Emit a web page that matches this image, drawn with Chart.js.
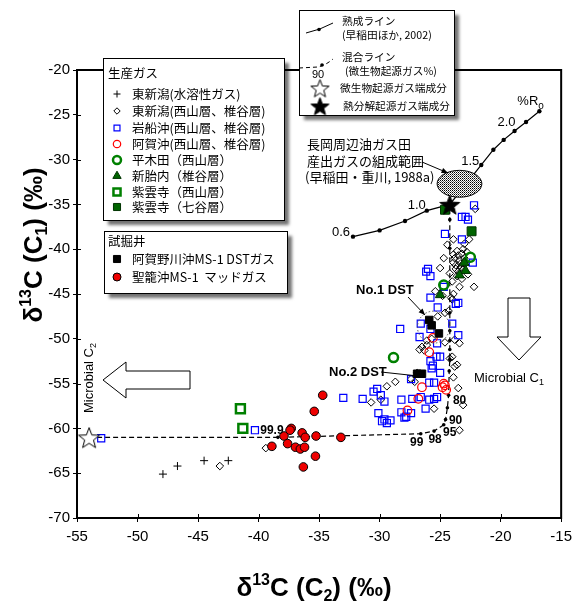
<!DOCTYPE html>
<html>
<head>
<meta charset="utf-8">
<script src="https://cdn.jsdelivr.net/npm/chart.js@4.4.1/dist/chart.umd.min.js"></script>
<style>
  html, body { margin: 0; padding: 0; background: #fff; }
</style>
</head>
<body>
<canvas id="chart" width="578" height="608"></canvas>
<script>
const AR = '"Liberation Sans", Arial, "Noto Sans CJK JP", sans-serif';
const JP = '"Noto Sans CJK JP", "Liberation Sans", sans-serif';

// axes
const xTicks = [-55, -50, -45, -40, -35, -30, -25, -20, -15];
const yTicks = [-70, -65, -60, -55, -50, -45, -40, -35, -30, -25, -20];

// 生産ガス
const higashiWater = [[-47.9, -65.1], [-46.7, -64.2], [-44.5, -63.6], [-42.5, -63.6]];
const higashiNS = [
  [-43.2, -64.2], [-39.4, -62.2],
  [-23.4, -60.2], [-23.1, -57.4], [-23.5, -55.5], [-23.9, -54.3], [-23.8, -53.1], [-25.5, -57.8],
  [-29.4, -55.3], [-28.7, -54.8], [-30.7, -57.1], [-29.9, -56.8],
  [-26.9, -53.8], [-27.1, -54.8], [-27.4, -54.5],
  [-26.5, -50.9], [-26.1, -50.7], [-25.7, -50.0], [-24.6, -50.4], [-23.8, -50.1], [-23.4, -50.5],
  [-24.0, -52.0], [-23.6, -52.9], [-24.2, -52.2],
  [-25.4, -44.7], [-22.2, -44.2], [-23.9, -45.0], [-24.0, -45.6], [-24.6, -47.1], [-24.3, -46.9],
  [-26.7, -51.2], [-26.3, -51.3], [-26.1, -50.2], [-25.2, -47.5], [-24.8, -45.2], [-24.1, -45.4],
  [-22.1, -35.5], [-23.9, -38.9], [-22.6, -38.9], [-24.4, -39.5], [-23.0, -39.4], [-24.7, -41.0],
  [-25.0, -42.1], [-23.9, -41.5],
  [-23.6, -40.2], [-23.2, -40.5], [-23.8, -41.0], [-23.4, -41.2], [-23.0, -41.0], [-23.7, -41.8],
  [-23.3, -42.0], [-22.9, -41.6], [-23.5, -42.5], [-23.1, -40.0], [-23.9, -40.6], [-22.8, -40.3],
  [-23.6, -43.0], [-23.2, -43.3], [-24.2, -42.7], [-24.0, -43.6], [-23.4, -44.2], [-22.7, -42.8],
  [-23.5, -40.7], [-23.3, -41.6], [-23.7, -42.2], [-23.1, -42.3]
];
const iwafune = [
  [-53.0, -61.1], [-40.3, -60.2], [-33.0, -56.6], [-31.4, -56.7],
  [-30.5, -55.9], [-30.2, -55.6], [-29.9, -56.3], [-29.6, -57.0],
  [-30.1, -58.3], [-29.8, -59.2], [-29.4, -59.4], [-29.1, -59.1], [-29.6, -59.0],
  [-28.2, -56.8], [-28.2, -58.2], [-27.95, -58.8], [-27.8, -58.7], [-27.4, -58.3], [-27.3, -56.7],
  [-27.4, -54.5], [-26.6, -56.5], [-26.2, -57.8], [-25.9, -56.8], [-25.9, -54.9], [-25.5, -54.9],
  [-25.5, -56.7], [-25.25, -56.5], [-25.0, -53.8], [-25.7, -53.3], [-25.6, -53.0],
  [-28.3, -48.9], [-26.7, -49.8], [-25.8, -48.9], [-24.0, -48.3], [-23.5, -49.6], [-25.0, -52.0],
  [-25.3, -52.0], [-25.25, -50.5], [-25.8, -52.5],
  [-22.2, -35.1], [-23.2, -36.4], [-22.9, -36.4], [-22.7, -36.7], [-24.6, -38.3], [-23.2, -38.9],
  [-22.3, -41.5], [-26.15, -42.5], [-26.0, -42.2], [-25.8, -43.0], [-24.7, -44.2], [-25.8, -45.4],
  [-23.7, -46.1], [-23.5, -46.0], [-25.2, -46.5], [-26.6, -48.3]
];
const agaoki = [[-26.5, -55.4], [-26.8, -56.7], [-27.7, -58.0], [-24.8, -55.4], [-24.6, -55.2],
  [-24.5, -55.7], [-24.7, -55.0], [-25.9, -51.5], [-25.6, -49.9]];
const hiragida = [[-22.5, -40.9], [-24.7, -44.0], [-28.85, -52.1]];
const shintainai = [[-23.0, -41.5], [-22.9, -42.4], [-23.4, -42.9], [-25.0, -45.1]];
const shiunjiNishiyama = [[-41.5, -57.8], [-41.3, -60.0]];
const shiunjiNanatani = [[-24.6, -35.6], [-22.4, -38.0]];

// 試掘井
const dstGas = [[-25.9, -47.9], [-25.7, -48.5], [-25.1, -49.4], [-26.9, -53.9], [-26.5, -53.9]];
const mudGas = [[-34.7, -56.3], [-35.4, -58.1], [-37.3, -60.0], [-37.4, -60.2], [-37.9, -60.85],
  [-36.4, -60.5], [-36.15, -61.0], [-35.25, -60.85], [-33.2, -61.0], [-38.9, -62.0], [-37.6, -61.7],
  [-36.95, -62.1], [-36.55, -62.3], [-36.2, -62.1], [-35.3, -63.1], [-36.3, -64.3]];

// lines and end-members
const maturity = [[-32.2, -38.6], [-30.0, -37.9], [-27.9, -36.85], [-26.1, -35.7], [-24.2, -35.0],
  [-21.6, -30.6], [-20.6, -28.9], [-19.75, -27.8], [-18.85, -26.8], [-17.9, -25.8], [-16.8, -24.6]];
const maturityLabels = [['0.6', 0, -12, -4], ['1.0', 3, -10, -5], ['1.5', 5, -11, -4], ['2.0', 8, -8, -9]];
const mixing = [[-54.0, -61.0], [-38.4, -61.0], [-26.6, -60.6], [-25.5, -60.3], [-24.7, -59.6],
  [-24.55, -59.0], [-24.4, -57.7], [-24.3, -56.3], [-24.25, -53.6], [-24.2, -52.3], [-24.2, -51.2],
  [-24.2, -50.2], [-24.2, -49.1], [-24.2, -47.1], [-24.2, -39.9], [-24.2, -36.7], [-24.2, -35.0]];
const mixingLabels = [['99.9', 1, -6, -7], ['99', 2, -4, 9], ['98', 3, 1, 9], ['95', 4, 6, 8], ['90', 5, 10, 1], ['80', 7, 11, 5]];
const microbialEnd = [[-54.0, -61.0]];
const thermoEnd = [[-24.2, -35.0]];
const oilfieldCenter = [-23.4, -32.7];
const oilfieldRadius = [1.85, 1.5];
const dst1Ring = [-25.55, -48.7];

const xy = a => a.map(p => ({ x: p[0], y: p[1] }));

function starImg(size, fill) {
  const c = document.createElement('canvas');
  c.width = c.height = size + 2;
  const g = c.getContext('2d');
  const cx = (size + 2) / 2, cy = cx + size * 0.06, R = size / 2, r = R * 0.42;
  g.beginPath();
  for (let i = 0; i < 10; i++) {
    const a = -Math.PI / 2 + i * Math.PI / 5, rr = i % 2 ? r : R;
    g.lineTo(cx + rr * Math.cos(a), cy + rr * Math.sin(a));
  }
  g.closePath();
  g.fillStyle = fill; g.fill();
  g.strokeStyle = '#000'; g.lineWidth = 1; g.stroke();
  return c;
}

const styles = {
  water: { pointStyle: 'cross', radius: 4, borderColor: '#000', backgroundColor: '#000', borderWidth: 1 },
  diamond: { pointStyle: 'rectRot', radius: 3.8, borderColor: '#000', backgroundColor: 'rgba(255,255,255,0)', borderWidth: 1 },
  blue: { pointStyle: 'rect', radius: 5, borderColor: '#0000ff', backgroundColor: 'rgba(255,255,255,0)', borderWidth: 1.2 },
  redOpen: { pointStyle: 'circle', radius: 4.3, borderColor: '#ff0000', backgroundColor: 'rgba(255,255,255,0)', borderWidth: 1.2 },
  greenCircle: { pointStyle: 'circle', radius: 4.5, borderColor: '#008000', backgroundColor: 'rgba(255,255,255,0)', borderWidth: 2.5 },
  triangle: { pointStyle: 'triangle', radius: 5.5, borderColor: '#003300', backgroundColor: '#006400', borderWidth: 1 },
  greenSq: { pointStyle: 'rect', radius: 6.3, borderColor: '#008000', backgroundColor: 'rgba(255,255,255,0)', borderWidth: 2.5 },
  greenFill: { pointStyle: 'rect', radius: 6.3, borderColor: '#003300', backgroundColor: '#006400', borderWidth: 1 },
  dst: { pointStyle: 'rect', radius: 5.3, borderColor: '#000', backgroundColor: '#000', borderWidth: 1 },
  mud: { pointStyle: 'circle', radius: 4.3, borderColor: '#000', backgroundColor: '#ee0000', borderWidth: 1 },
  openStar: { pointStyle: starImg(22, '#fff'), radius: 11 },
  fillStar: { pointStyle: starImg(21, '#000'), radius: 10 },
  legOpenStar: { pointStyle: starImg(19, '#fff'), radius: 9 },
  legFillStar: { pointStyle: starImg(19, '#000'), radius: 9 }
};

function scatter(data, st) {
  const s = styles[st];
  return {
    type: 'scatter', data: xy(data), showLine: false,
    pointStyle: s.pointStyle, pointRadius: s.radius, pointHoverRadius: s.radius,
    pointBorderColor: s.borderColor || '#000', pointBackgroundColor: s.backgroundColor || '#000',
    pointBorderWidth: s.borderWidth || 1
  };
}

function drawMark(ctx, st, x, y, r) {
  const s = styles[st];
  r = r || s.radius;
  ctx.save();
  if (typeof s.pointStyle !== 'string') {
    const im = s.pointStyle;
    ctx.drawImage(im, x - im.width / 2, y - im.height / 2);
    ctx.restore();
    return;
  }
  ctx.strokeStyle = s.borderColor; ctx.fillStyle = s.backgroundColor; ctx.lineWidth = s.borderWidth;
  ctx.beginPath();
  if (s.pointStyle === 'cross') {
    ctx.moveTo(x - r, y); ctx.lineTo(x + r, y); ctx.moveTo(x, y - r); ctx.lineTo(x, y + r);
    ctx.stroke(); ctx.restore(); return;
  }
  if (s.pointStyle === 'rect') { const h = r * Math.SQRT1_2; ctx.rect(x - h, y - h, 2 * h, 2 * h); }
  if (s.pointStyle === 'rectRot') { ctx.moveTo(x, y - r); ctx.lineTo(x + r, y); ctx.lineTo(x, y + r); ctx.lineTo(x - r, y); ctx.closePath(); }
  if (s.pointStyle === 'circle') ctx.arc(x, y, r, 0, Math.PI * 2);
  if (s.pointStyle === 'triangle') {
    ctx.moveTo(x, y - r); ctx.lineTo(x + r * 0.866, y + r * 0.5); ctx.lineTo(x - r * 0.866, y + r * 0.5); ctx.closePath();
  }
  ctx.fill(); ctx.stroke();
  ctx.restore();
}

function text(ctx, s, x, y, font, align, color) {
  ctx.font = font; ctx.fillStyle = color || '#000';
  ctx.textAlign = align || 'left'; ctx.textBaseline = 'middle';
  ctx.fillText(s, x, y);
}

function rich(ctx, parts, cx, cy) {
  ctx.textAlign = 'left'; ctx.textBaseline = 'alphabetic'; ctx.fillStyle = '#000';
  let w = 0;
  parts.forEach(p => { ctx.font = p[1]; p.w = ctx.measureText(p[0]).width; w += p.w; });
  let x = cx - w / 2;
  parts.forEach(p => { ctx.font = p[1]; ctx.fillText(p[0], x, cy + (p[2] || 0)); x += p.w; });
}

function box(ctx, x, y, w, h) {
  ctx.save();
  ctx.shadowColor = 'rgba(0,0,0,0.55)'; ctx.shadowOffsetX = 5; ctx.shadowOffsetY = 5; ctx.shadowBlur = 3;
  ctx.fillStyle = '#fff'; ctx.fillRect(x, y, w, h);
  ctx.restore();
  ctx.strokeStyle = '#000'; ctx.lineWidth = 1; ctx.strokeRect(x + 0.5, y + 0.5, w, h);
}

function arrowHead(ctx, x0, y0, x1, y1) {
  const a = Math.atan2(y1 - y0, x1 - x0), L = 7;
  ctx.beginPath(); ctx.moveTo(x0, y0); ctx.lineTo(x1, y1); ctx.stroke();
  ctx.beginPath(); ctx.moveTo(x1, y1);
  ctx.lineTo(x1 - L * Math.cos(a - 0.4), y1 - L * Math.sin(a - 0.4));
  ctx.lineTo(x1 - L * Math.cos(a + 0.4), y1 - L * Math.sin(a + 0.4));
  ctx.closePath(); ctx.fill();
}

const stipple = (() => {
  const c = document.createElement('canvas'); c.width = c.height = 2;
  const g = c.getContext('2d'); g.fillStyle = '#fff'; g.fillRect(0, 0, 2, 2);
  g.fillStyle = '#000'; g.fillRect(0, 0, 1, 1); g.fillStyle = '#666'; g.fillRect(1, 1, 1, 1);
  return c;
})();

const datasets = [
  scatter(thermoEnd, 'fillStar'),
  scatter(microbialEnd, 'openStar'),
  scatter(dstGas, 'dst'),
  scatter(mudGas, 'mud'),
  scatter(shiunjiNanatani, 'greenFill'),
  scatter(shiunjiNishiyama, 'greenSq'),
  scatter(shintainai, 'triangle'),
  scatter(hiragida, 'greenCircle'),
  scatter(agaoki, 'redOpen'),
  scatter(iwafune, 'blue'),
  scatter(higashiNS, 'diamond'),
  scatter(higashiWater, 'water'),
  { type: 'scatter', data: xy(mixing), showLine: true, borderColor: '#000', borderWidth: 1.2,
    borderDash: [5, 3], pointRadius: 1.8, pointBackgroundColor: '#000', pointBorderWidth: 0 },
  { type: 'scatter', data: xy(maturity), showLine: true, borderColor: '#000', borderWidth: 1.2,
    pointRadius: 2.2, pointBackgroundColor: '#000', pointBorderWidth: 0 }
];
const maturityIdx = datasets.length - 1;

const annotations = {
  id: 'annotations',
  afterDatasetDraw(chart, args) {
    if (args.index !== maturityIdx) return;
    const { ctx, scales: { x, y } } = chart;
    const cx = x.getPixelForValue(oilfieldCenter[0]), cy = y.getPixelForValue(oilfieldCenter[1]);
    const rx = x.getPixelForValue(oilfieldCenter[0] + oilfieldRadius[0]) - cx;
    const ry = cy - y.getPixelForValue(oilfieldCenter[1] + oilfieldRadius[1]);
    ctx.save();
    ctx.beginPath(); ctx.ellipse(cx, cy, rx, ry, 0, 0, Math.PI * 2);
    ctx.fillStyle = ctx.createPattern(stipple, 'repeat'); ctx.fill();
    ctx.strokeStyle = '#000'; ctx.lineWidth = 1; ctx.stroke();
    ctx.restore();
  },
  afterDatasetsDraw(chart) {
    const { ctx, chartArea: a, scales: { x, y } } = chart;
    ctx.save();
    // frame and inner ticks
    ctx.strokeStyle = '#000'; ctx.lineWidth = 2;
    ctx.strokeRect(a.left, a.top, a.right - a.left, a.bottom - a.top);
    ctx.lineWidth = 1; ctx.beginPath();
    xTicks.forEach(v => { const px = Math.round(x.getPixelForValue(v)) + 0.5; ctx.moveTo(px, a.bottom); ctx.lineTo(px, a.bottom - 4); });
    yTicks.forEach(v => { const py = Math.round(y.getPixelForValue(v)) + 0.5; ctx.moveTo(a.left, py); ctx.lineTo(a.left + 4, py); });
    ctx.stroke();

    // DST ring
    ctx.save();
    ctx.strokeStyle = '#555'; ctx.setLineDash([1.5, 2]); ctx.lineWidth = 1;
    ctx.beginPath(); ctx.arc(x.getPixelForValue(dst1Ring[0]), y.getPixelForValue(dst1Ring[1]), 16, 0, Math.PI * 2); ctx.stroke();
    ctx.restore();

    // line labels
    const f13 = '13px ' + AR;
    maturityLabels.forEach(([s, i, dx, dy]) =>
      text(ctx, s, x.getPixelForValue(maturity[i][0]) + dx, y.getPixelForValue(maturity[i][1]) + dy, f13, 'center'));
    const end = maturity[maturity.length - 1];
    const ex = x.getPixelForValue(end[0]) - 22, ey = y.getPixelForValue(end[1]) - 10;
    text(ctx, '%R', ex, ey, f13, 'left');
    text(ctx, 'o', ex + ctx.measureText('%R').width, ey + 5, '10px ' + AR, 'left');
    mixingLabels.forEach(([s, i, dx, dy]) =>
      text(ctx, s, x.getPixelForValue(mixing[i][0]) + dx, y.getPixelForValue(mixing[i][1]) + dy, 'bold 12px ' + AR, 'center'));

    // oil field label
    const fj = '13px ' + JP;
    text(ctx, '長岡周辺油ガス田', 307, 144, fj);
    text(ctx, '産出ガスの組成範囲', 307, 161, fj);
    text(ctx, '(早稲田・重川, 1988a)', 305, 177, fj);
    ctx.fillStyle = '#000'; ctx.strokeStyle = '#000'; ctx.lineWidth = 1;
    arrowHead(ctx, 422, 162, 448, 173);

    // DST labels
    text(ctx, 'No.1 DST', 356, 290, 'bold 13px ' + AR);
    ctx.fillStyle = '#000';
    arrowHead(ctx, 408, 297, 425, 315);
    text(ctx, 'No.2 DST', 329, 372, 'bold 13px ' + AR);
    ctx.beginPath(); ctx.moveTo(381, 372); ctx.lineTo(418, 376); ctx.stroke();

    // microbial arrows
    ctx.fillStyle = '#fff'; ctx.strokeStyle = '#000'; ctx.lineWidth = 1;
    ctx.beginPath();
    ctx.moveTo(103, 380); ctx.lineTo(126, 362); ctx.lineTo(126, 371); ctx.lineTo(190, 371);
    ctx.lineTo(190, 389); ctx.lineTo(126, 389); ctx.lineTo(126, 398); ctx.closePath();
    ctx.fill(); ctx.stroke();
    ctx.beginPath();
    ctx.moveTo(508, 298); ctx.lineTo(530, 298); ctx.lineTo(530, 337); ctx.lineTo(541, 337);
    ctx.lineTo(519, 360); ctx.lineTo(497, 337); ctx.lineTo(508, 337); ctx.closePath();
    ctx.fill(); ctx.stroke();
    text(ctx, 'Microbial C', 474, 378, '13px ' + AR);
    text(ctx, '1', 474 + ctx.measureText('Microbial C').width, 383, '9px ' + AR);
    ctx.save();
    ctx.translate(89, 413); ctx.rotate(-Math.PI / 2);
    text(ctx, 'Microbial C', 0, 0, '13px ' + AR);
    text(ctx, '2', ctx.measureText('Microbial C').width, 5, '9px ' + AR);
    ctx.restore();

    // axis titles
    const B = 'bold 26px ' + AR, S = 'bold 16px ' + AR;
    rich(ctx, [['δ', B], ['13', S, -11], ['C (C', B], ['2', S, 5], [') (‰)', B]], 314, 596);
    ctx.save();
    ctx.translate(42, 245); ctx.rotate(-Math.PI / 2);
    rich(ctx, [['δ', B], ['13', S, -11], ['C (C', B], ['1', S, 5], [') (‰)', B]], 0, 0);
    ctx.restore();

    // legend: 生産ガス
    box(ctx, 103, 58, 181, 162);
    const fl = '12.5px ' + JP;
    text(ctx, '生産ガス', 108, 73, fl);
    const prod = [['water', '東新潟(水溶性ガス)', 3.5], ['diamond', '東新潟(西山層、椎谷層)', 3.2],
      ['blue', '岩船沖(西山層、椎谷層)', 4.2], ['redOpen', '阿賀沖(西山層、椎谷層)', 3.7],
      ['greenCircle', '平木田（西山層）', 4], ['triangle', '新胎内（椎谷層）', 4.8],
      ['greenSq', '紫雲寺（西山層）', 5], ['greenFill', '紫雲寺（七谷層）', 5]];
    const rows = [94, 111, 128, 144, 160, 176, 192, 207];
    prod.forEach(([st, s, r], i) => {
      drawMark(ctx, st, 117, rows[i], r);
      text(ctx, s, 132, rows[i], fl);
    });

    // legend: 試掘井
    box(ctx, 104, 231, 183, 62);
    text(ctx, '試掘井', 108, 241, fl);
    drawMark(ctx, 'dst', 117, 259, 5);
    text(ctx, '阿賀野川沖MS-1 DSTガス', 132, 259, fl);
    drawMark(ctx, 'mud', 117, 277, 4);
    text(ctx, '聖籠沖MS-1  マッドガス', 132, 277, fl);

    // legend: lines
    box(ctx, 299, 10, 155, 105);
    const fs = '10.7px ' + JP;
    ctx.strokeStyle = '#000'; ctx.lineWidth = 1; ctx.setLineDash([]);
    ctx.beginPath(); ctx.moveTo(306, 33); ctx.quadraticCurveTo(320, 30, 333, 23); ctx.stroke();
    ctx.fillStyle = '#000'; ctx.beginPath(); ctx.arc(319, 29.5, 1.8, 0, Math.PI * 2); ctx.fill();
    text(ctx, '熟成ライン', 342, 21, fs);
    text(ctx, '(早稲田ほか, 2002)', 342, 35, fs);
    ctx.setLineDash([4, 3]);
    ctx.beginPath(); ctx.moveTo(299, 68); ctx.lineTo(318, 67); ctx.quadraticCurveTo(326, 65, 333, 59); ctx.stroke();
    ctx.setLineDash([]);
    ctx.fillStyle = '#000'; ctx.beginPath(); ctx.arc(322, 65, 1.8, 0, Math.PI * 2); ctx.fill();
    text(ctx, '90', 318, 75, '11px ' + AR, 'center');
    text(ctx, '混合ライン', 342, 57, fs);
    text(ctx, '(微生物起源ガス%)', 345, 71, fs);
    drawMark(ctx, 'legOpenStar', 320, 88);
    text(ctx, '微生物起源ガス端成分', 340, 88, fs);
    drawMark(ctx, 'legFillStar', 320, 106);
    text(ctx, '熱分解起源ガス端成分', 343, 106, fs);
    ctx.restore();
  }
};

new Chart(document.getElementById('chart'), {
  type: 'scatter',
  data: { datasets },
  options: {
    responsive: false,
    animation: false,
    devicePixelRatio: 1,
    layout: { padding: { top: 70, right: 13, left: 0, bottom: 0 } },
    plugins: { legend: { display: false }, tooltip: { enabled: false } },
    scales: {
      x: {
        type: 'linear', min: -55, max: -15,
        afterBuildTicks: s => { s.ticks = xTicks.map(v => ({ value: v })); },
        afterFit: s => { s.height = 90; },
        grid: { drawOnChartArea: false, color: '#000', tickLength: 4 },
        border: { color: '#000', width: 2 },
        ticks: { color: '#000', font: { family: AR, size: 15 }, padding: 6, maxRotation: 0 }
      },
      y: {
        type: 'linear', min: -70, max: -20,
        afterBuildTicks: s => { s.ticks = yTicks.map(v => ({ value: v })); },
        afterFit: s => { s.width = 77; },
        grid: { drawOnChartArea: false, color: '#000', tickLength: 4 },
        border: { color: '#000', width: 2 },
        ticks: { color: '#000', font: { family: AR, size: 15 }, padding: 3 }
      }
    }
  },
  plugins: [annotations]
});
</script>
</body>
</html>
